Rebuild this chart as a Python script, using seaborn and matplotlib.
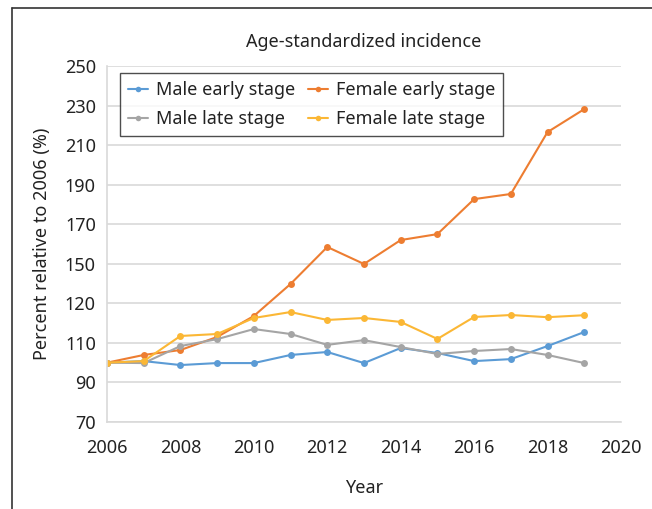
import numpy as np
import pandas as pd
import matplotlib
matplotlib.use("Agg")
import matplotlib.pyplot as plt
from matplotlib.lines import Line2D
import seaborn as sns

# values (percent relative to 2006)
years = list(range(2006, 2020))
male_early = [100, 100.8, 98.8, 99.8, 99.8, 103.9, 105.4, 99.8, 107.4, 104.9, 100.8, 101.8, 108.4, 115.5]
female_early = [100, 103.9, 106.4, 113.0, 123.6, 139.8, 158.5, 149.9, 162.0, 165.0, 182.7, 185.3, 216.6, 228.2]
male_late = [100, 99.8, 108.4, 111.9, 117.0, 114.5, 109.0, 111.4, 107.9, 104.4, 105.9, 106.9, 103.9, 99.8]
female_late = [100, 100.8, 113.5, 114.5, 122.6, 125.6, 121.6, 122.6, 120.6, 112.0, 123.1, 124.1, 123.0, 124.0]

series_names = ["Male early stage", "Female early stage", "Male late stage", "Female late stage"]
colors = ["#5B9BD5", "#ED7D31", "#A5A5A5", "#FBB735"]

# the y-axis labels as printed on the original (evenly spaced gridlines)
ytick_pos = [70, 90, 110, 130, 150, 170, 190, 210, 230, 250]
ytick_labels = ["70", "90", "110", "120", "150", "170", "190", "210", "230", "250"]
xticks = list(range(2006, 2021, 2))

df = pd.DataFrame({"Year": years * 4,
                   "value": male_early + female_early + male_late + female_late,
                   "series": np.repeat(series_names, len(years))})

sns.set_style("white")
plt.rcParams["font.family"] = ["Noto Sans", "DejaVu Sans"]

fig = plt.figure(figsize=(6.52, 5.09), dpi=100)
ax = fig.add_axes([0.1641, 0.1709, 0.7883, 0.6994])

sns.lineplot(data=df, x="Year", y="value", hue="series", hue_order=series_names,
             palette=colors, marker="o", markersize=5, markeredgewidth=0,
             linewidth=1.5, ax=ax, legend=False)

ax.set_xlim(2006, 2020)
ax.set_ylim(70, 250)
ax.set_xticks(xticks)
ax.set_yticks(ytick_pos)
ax.set_yticklabels(ytick_labels)
ax.tick_params(axis="both", length=0, labelsize=13, colors="#222222")
ax.tick_params(axis="x", pad=12)
ax.tick_params(axis="y", pad=8)
ax.grid(axis="y", color="#D9D9D9", linewidth=1.2)
for side in ["top", "right"]:
    ax.spines[side].set_visible(False)
for side in ["left", "bottom"]:
    ax.spines[side].set_color("#D9D9D9")
    ax.spines[side].set_linewidth(1.2)

ax.set_xlabel("Year", fontsize=13, labelpad=16, color="#222222")
ax.set_ylabel("Percent relative to 2006 (%)", fontsize=13, labelpad=10, color="#222222")
ax.set_title("Age-standardized incidence", fontsize=13, pad=14, color="#222222")

# legend fills column by column, so order it to read row-wise like the original
order = [0, 2, 1, 3]
handles = [Line2D([], [], color=colors[i], marker="o", markersize=4, markeredgewidth=0, linewidth=1.5)
           for i in order]
labels = [series_names[i] for i in order]
leg = ax.legend(handles, labels, ncol=2, loc="upper left", bbox_to_anchor=(0.025, 0.98),
                borderaxespad=0, fontsize=13, frameon=True, fancybox=False, handlelength=1.1,
                columnspacing=0.7, handletextpad=0.45, borderpad=0.45, labelspacing=0.6)
leg.get_frame().set_edgecolor("#222222")
leg.get_frame().set_linewidth(1.0)
for t in leg.get_texts():
    t.set_color("#222222")

# outer frame (only left and top edges show in the reference)
fig.add_artist(Line2D([12 / 652, 12 / 652], [0, 1 - 8 / 509], color="#333333", linewidth=1.2))
fig.add_artist(Line2D([12 / 652, 1], [1 - 8 / 509, 1 - 8 / 509], color="#333333", linewidth=1.2))

fig.savefig("out.png", dpi=100)
